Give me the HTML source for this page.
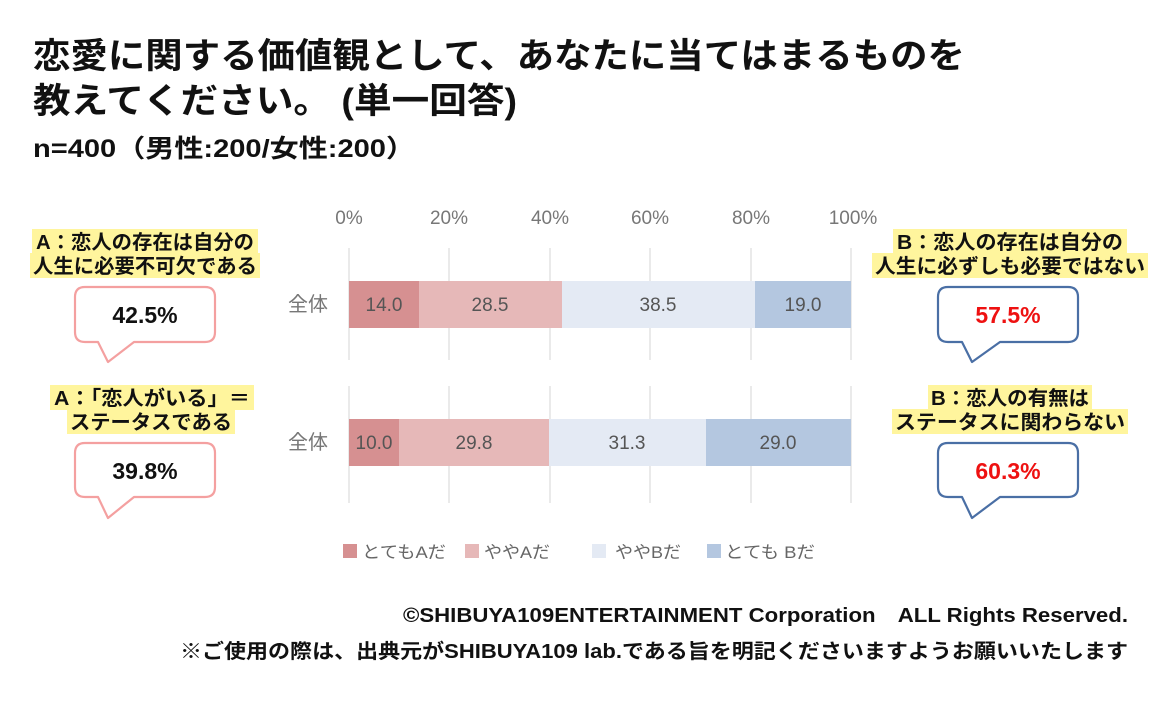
<!DOCTYPE html>
<html><head><meta charset="utf-8"><style>
body{margin:0;background:#fff;}
svg text{font-family:"Liberation Sans","Noto Sans CJK JP",sans-serif;}
</style></head><body>
<svg width="1160" height="701" viewBox="0 0 1160 701" xmlns="http://www.w3.org/2000/svg">
<rect width="1160" height="701" fill="#fff"/>
<g font-weight="bold" fill="#111">
<text x="33" y="68" font-size="35" textLength="932" lengthAdjust="spacingAndGlyphs">恋愛に関する価値観として、あなたに当てはまるものを</text>
<text x="33" y="113" font-size="35" textLength="484" lengthAdjust="spacingAndGlyphs">教えてください。 (単一回答)</text>
<text x="33" y="157" font-size="25" textLength="382" lengthAdjust="spacingAndGlyphs">n=400（男性:200/女性:200）</text>
</g>
<g font-size="19" fill="#777" text-anchor="middle">
<text x="349" y="224">0%</text><text x="449" y="224">20%</text><text x="550" y="224">40%</text>
<text x="650" y="224">60%</text><text x="751" y="224">80%</text><text x="853" y="224">100%</text>
</g>
<g stroke="#dcdcdc" stroke-width="1.2">
<line x1="349" y1="248" x2="349" y2="360"/><line x1="449" y1="248" x2="449" y2="360"/><line x1="550" y1="248" x2="550" y2="360"/><line x1="650" y1="248" x2="650" y2="360"/><line x1="751" y1="248" x2="751" y2="360"/><line x1="851" y1="248" x2="851" y2="360"/>
<line x1="349" y1="386" x2="349" y2="503"/><line x1="449" y1="386" x2="449" y2="503"/><line x1="550" y1="386" x2="550" y2="503"/><line x1="650" y1="386" x2="650" y2="503"/><line x1="751" y1="386" x2="751" y2="503"/><line x1="851" y1="386" x2="851" y2="503"/>
</g>
<rect x="349" y="281" width="70" height="47" fill="#d69091"/>
<rect x="419" y="281" width="143" height="47" fill="#e6b8b8"/>
<rect x="562" y="281" width="193" height="47" fill="#e4eaf4"/>
<rect x="755" y="281" width="96" height="47" fill="#b4c7e0"/>
<rect x="349" y="419" width="50" height="47" fill="#d69091"/>
<rect x="399" y="419" width="150" height="47" fill="#e6b8b8"/>
<rect x="549" y="419" width="157" height="47" fill="#e4eaf4"/>
<rect x="706" y="419" width="145" height="47" fill="#b4c7e0"/>
<g font-size="19" fill="#555" text-anchor="middle">
<text x="384" y="311">14.0</text><text x="490" y="311">28.5</text><text x="658" y="311">38.5</text><text x="803" y="311">19.0</text>
<text x="374" y="449">10.0</text><text x="474" y="449">29.8</text><text x="627" y="449">31.3</text><text x="778" y="449">29.0</text>
<text x="308" y="311" fill="#777" font-size="20">全体</text><text x="308" y="449" fill="#777" font-size="20">全体</text>
</g>
<g font-size="17" fill="#666">
<rect x="343" y="544" width="14" height="14" fill="#d69091"/><text x="362" y="558" textLength="84" lengthAdjust="spacingAndGlyphs">とてもAだ</text>
<rect x="465" y="544" width="14" height="14" fill="#e6b8b8"/><text x="484" y="558" textLength="66" lengthAdjust="spacingAndGlyphs">ややAだ</text>
<rect x="592" y="544" width="14" height="14" fill="#e4eaf4"/><text x="615" y="558" textLength="66" lengthAdjust="spacingAndGlyphs">ややBだ</text>
<rect x="707" y="544" width="14" height="14" fill="#b4c7e0"/><text x="725" y="558" textLength="90" lengthAdjust="spacingAndGlyphs">とても Bだ</text>
</g>
<g font-size="20" font-weight="bold" fill="#111" text-anchor="middle">
<rect x="32" y="229" width="226" height="25" fill="#fff59d"/>
<rect x="30" y="253" width="230" height="25" fill="#fff59d"/>
<text x="145" y="249" textLength="218" lengthAdjust="spacingAndGlyphs">A：恋人の存在は自分の</text>
<text x="145" y="273" textLength="224" lengthAdjust="spacingAndGlyphs">人生に必要不可欠である</text>
<rect x="50" y="385" width="204" height="25" fill="#fff59d"/>
<rect x="67" y="409" width="168" height="25" fill="#fff59d"/>
<text x="152" y="405" textLength="196" lengthAdjust="spacingAndGlyphs">A：「恋人がいる」＝</text>
<text x="151" y="429" textLength="162" lengthAdjust="spacingAndGlyphs">ステータスである</text>
<rect x="893" y="229" width="234" height="25" fill="#fff59d"/>
<rect x="872" y="253" width="276" height="25" fill="#fff59d"/>
<text x="1010" y="249" textLength="226" lengthAdjust="spacingAndGlyphs">B：恋人の存在は自分の</text>
<text x="1010" y="273" textLength="270" lengthAdjust="spacingAndGlyphs">人生に必ずしも必要ではない</text>
<rect x="928" y="385" width="164" height="25" fill="#fff59d"/>
<rect x="892" y="409" width="236" height="25" fill="#fff59d"/>
<text x="1010" y="405" textLength="158" lengthAdjust="spacingAndGlyphs">B：恋人の有無は</text>
<text x="1010" y="429" textLength="230" lengthAdjust="spacingAndGlyphs">ステータスに関わらない</text>
</g>
<g fill="#fff" stroke-width="2.2" stroke-linejoin="round">
<path d="M85 287 H205 Q215 287 215 297 V332 Q215 342 205 342 H134 L108 362 L98 342 H85 Q75 342 75 332 V297 Q75 287 85 287 Z" stroke="#f4a0a0"/>
<path d="M85 443 H205 Q215 443 215 453 V487 Q215 497 205 497 H134 L108 518 L98 497 H85 Q75 497 75 487 V453 Q75 443 85 443 Z" stroke="#f4a0a0"/>
<path d="M948 287 H1068 Q1078 287 1078 297 V332 Q1078 342 1068 342 H1000 L972 362 L962 342 H948 Q938 342 938 332 V297 Q938 287 948 287 Z" stroke="#4a6fa5"/>
<path d="M948 443 H1068 Q1078 443 1078 453 V487 Q1078 497 1068 497 H1000 L972 518 L962 497 H948 Q938 497 938 487 V453 Q938 443 948 443 Z" stroke="#4a6fa5"/>
</g>
<g font-size="23" font-weight="bold" text-anchor="middle">
<text x="145" y="323" fill="#111">42.5%</text>
<text x="145" y="479" fill="#111">39.8%</text>
<text x="1008" y="323" fill="#ee1111">57.5%</text>
<text x="1008" y="479" fill="#ee1111">60.3%</text>
</g>
<g font-size="20" font-weight="bold" fill="#111">
<text x="403" y="622" textLength="725" lengthAdjust="spacingAndGlyphs">©SHIBUYA109ENTERTAINMENT Corporation　ALL Rights Reserved.</text>
<text x="180" y="658" textLength="948" lengthAdjust="spacingAndGlyphs">※ご使用の際は、出典元がSHIBUYA109 lab.である旨を明記くださいますようお願いいたします</text>
</g>
</svg>
</body></html>
